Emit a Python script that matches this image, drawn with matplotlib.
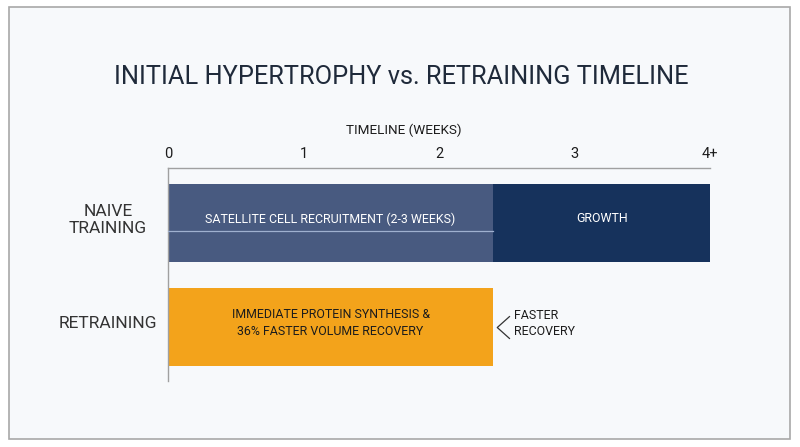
import matplotlib
matplotlib.use("Agg")
import matplotlib.pyplot as plt
from matplotlib.patches import Rectangle

plt.rcParams['font.family'] = ['Roboto', 'DejaVu Sans']

# Data
rows = ["NAIVE\nTRAINING", "RETRAINING"]
tick_vals = [0, 1, 2, 3, 4]
tick_labels = ["0", "1", "2", "3", "4+"]
naive_phases = [
    ("SATELLITE CELL RECRUITMENT (2-3 WEEKS)", 0.0, 2.4, "#485a80", "white"),
    ("GROWTH", 2.4, 1.6, "#16325c", "white"),
]
retrain_phases = [
    ("IMMEDIATE PROTEIN SYNTHESIS &\n36% FASTER VOLUME RECOVERY", 0.0, 2.4, "#f3a31b", "#1c1c1c"),
]
annotation = "FASTER\nRECOVERY"

W, H = 800, 447
fig = plt.figure(figsize=(8, 4.47), dpi=100)
fig.patch.set_facecolor("white")

# background panel with border
panel = Rectangle((9 / W, 1 - 439 / H), 781 / W, 432 / H, transform=fig.transFigure,
                  facecolor="#f7f9fb", edgecolor="#a8a8a8", linewidth=1.2, zorder=-10)
fig.patches.append(panel)

fig.text(401 / W, 1 - 77 / H, "INITIAL HYPERTROPHY vs. RETRAINING TIMELINE",
         ha="center", va="center", fontsize=18.3, color="#1f2a3a")
fig.text(404 / W, 1 - 130 / H, "TIMELINE (WEEKS)", ha="center", va="center",
         fontsize=9.7, color="#1c1c1c")

ax_left, ax_right = 168 / W, 710 / W
ax_top, ax_bot = 168 / H, 381 / H
ax = fig.add_axes([ax_left, 1 - ax_bot, ax_right - ax_left, ax_bot - ax_top])
ax.set_facecolor("none")
ax.set_xlim(0, 4)
unit = 104.0
ax.set_ylim(1 + (381 - 327) / unit, -(223 - 168) / unit)

for s in ["right", "bottom"]:
    ax.spines[s].set_visible(False)
ax.spines["top"].set_color("#a0a0a0")
ax.spines["left"].set_color("#a0a0a0")
ax.spines["top"].set_linewidth(1.0)
ax.spines["left"].set_linewidth(1.0)

ax.xaxis.tick_top()
ax.set_xticks(tick_vals)
ax.set_xticklabels(tick_labels, fontsize=10.5, color="#1c1c1c")
ax.tick_params(axis="x", length=0, pad=5)
ax.set_yticks([])

bar_h = 78 / unit
for (label, start, width, color, tcolor) in naive_phases:
    ax.barh(0, width, left=start, height=bar_h, color=color, zorder=2)
    ax.text(start + width / 2, -0.04, label, ha="center", va="center",
            fontsize=8.9, color=tcolor, zorder=3)
ax.plot([naive_phases[0][1], naive_phases[0][1] + naive_phases[0][2]], [0.077, 0.077],
        color="#9fb0cf", linewidth=0.9, zorder=3)

for (label, start, width, color, tcolor) in retrain_phases:
    ax.barh(1, width, left=start, height=bar_h, color=color, zorder=2)
    ax.text(start + width / 2, 1 - 0.04, label, ha="center", va="center",
            fontsize=8.9, color=tcolor, linespacing=1.4, zorder=3)

# row labels
for i, r in enumerate(rows):
    yc = [220, 323][i]
    fig.text(108 / W, 1 - yc / H, r, ha="center", va="center", fontsize=12.5,
             color="#333333", linespacing=1.1)

# chevron annotation
end = retrain_phases[0][1] + retrain_phases[0][2]
ax.plot([end + 0.12, end + 0.03, end + 0.12], [1 - 0.1, 1 + 0.005, 1 + 0.11],
        color="#333333", linewidth=0.9, clip_on=False)
ax.text(end + 0.15, 1 - 0.03, annotation, ha="left", va="center", fontsize=8.9,
        color="#1c1c1c", linespacing=1.3)

fig.savefig("out.png", dpi=100, facecolor="white")
